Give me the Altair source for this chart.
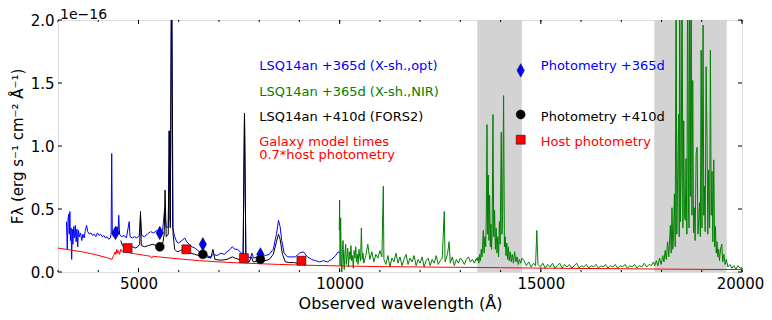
import altair as alt
import pandas as pd

# ---------------- data (flux in units of 1e-16 erg/s/cm2/A) ----------------
blue_wl = [3210, 3230, 3250, 3265, 3280, 3295, 3310, 3325, 3340, 3355, 3370, 3390, 3410, 3430, 3450,
           3470, 3490, 3510, 3530, 3560, 3590, 3620, 3650, 3680, 3710, 3740, 3780, 3820, 3860, 3900,
           3940, 3980, 4020, 4060, 4100, 4140, 4180, 4220, 4260, 4300, 4320, 4335, 4350, 4380, 4420,
           4470, 4490, 4510, 4530, 4580, 4640, 4700, 4770, 4790, 4850, 4900, 4960, 5020, 5050, 5080,
           5150, 5220, 5300, 5380, 5450, 5520, 5600, 5650, 5690, 5740, 5765, 5790, 5823, 5850, 5900,
           5950, 6000, 6080, 6150, 6200, 6260, 6330, 6400, 6480, 6550, 6620, 6700, 6780, 6860, 6950,
           7050, 7130, 7200, 7280, 7330, 7400, 7460, 7530, 7600, 7635, 7670, 7720, 7780, 7820, 7860,
           7950, 8050, 8150, 8250, 8350, 8430, 8480, 8520, 8560, 8620, 8700, 8800, 8900, 9000, 9100,
           9200, 9300, 9400, 9500, 9600, 9700, 9800, 9900, 9960, 10010]
blue_flux = [0.40, 0.18, 0.42, 0.46, 0.30, 0.48, 0.25, 0.35, 0.10, 0.34, 0.22, 0.36, 0.27, 0.37, 0.24,
             0.34, 0.20, 0.33, 0.28, 0.31, 0.25, 0.30, 0.27, 0.33, 0.37, 0.32, 0.30, 0.31, 0.29, 0.30,
             0.28, 0.31, 0.29, 0.30, 0.28, 0.29, 0.27, 0.28, 0.26, 0.27, 0.30, 0.94, 0.30, 0.28, 0.29,
             0.36, 0.30, 0.45, 0.30, 0.28, 0.29, 0.27, 0.40, 0.28, 0.27, 0.28, 0.27, 0.29, 0.45, 0.29,
             0.28, 0.30, 0.32, 0.31, 0.33, 0.30, 0.33, 0.50, 0.35, 0.36, 1.12, 0.40, 2.50, 0.35, 0.28,
             0.24, 0.23, 0.25, 0.27, 0.24, 0.22, 0.20, 0.19, 0.17, 0.15, 0.13, 0.13, 0.12, 0.14, 0.13,
             0.15, 0.14, 0.16, 0.18, 0.20, 0.18, 0.18, 0.16, 0.13, 1.26, 0.13, 0.12, 0.11, 0.15, 0.11,
             0.12, 0.12, 0.13, 0.14, 0.18, 0.30, 0.41, 0.36, 0.25, 0.15, 0.12, 0.12, 0.12, 0.15, 0.16,
             0.12, 0.10, 0.09, 0.08, 0.09, 0.08, 0.10, 0.13, 0.16, 0.15]

green_wl = [9990, 10000, 10010, 10025, 10040, 10055, 10070, 10085, 10100, 10115, 10130, 10150, 10165,
            10180, 10200, 10220, 10240, 10260, 10280, 10300, 10320, 10340, 10360, 10380, 10400, 10420,
            10440, 10460, 10480, 10500, 10520, 10540, 10560, 10580, 10600, 10650, 10700, 10750, 10800,
            10850, 10900, 10950, 11000, 11050, 11085, 11100, 11150, 11200, 11250, 11300, 11350, 11400,
            11450, 11500, 11550, 11600, 11650, 11700, 11750, 11800, 11850, 11900, 11950, 12000, 12050,
            12100, 12150, 12200, 12250, 12300, 12350, 12400, 12450, 12500, 12550, 12600, 12620, 12680,
            12720, 12750, 12800, 12850, 12900, 12950, 13000, 13050, 13100, 13150, 13200, 13250, 13300,
            13350, 13400,
            13420, 13440, 13460, 13480, 13500, 13520, 13540, 13570, 13590, 13610, 13630, 13645, 13662,
            13678, 13694, 13710, 13727, 13745, 13760, 13775, 13790, 13811, 13830, 13851, 13870, 13890,
            13910, 13930, 13950, 13970, 13990, 14017, 14035, 14050, 14075, 14095, 14115, 14135, 14155,
            14175, 14195, 14215, 14240, 14265, 14290, 14320, 14350, 14380, 14410, 14440, 14470, 14500,
            14530,
            14580, 14640, 14700, 14760, 14820, 14870, 14900, 14930, 14990, 15050, 15110, 15170, 15230,
            15290, 15350, 15410, 15470, 15530, 15590, 15650, 15710, 15770, 15830, 15890, 15950, 16010,
            16070, 16130, 16190, 16250, 16310, 16370, 16430, 16490, 16550, 16610, 16670, 16730, 16790,
            16850, 16910, 16970, 17030, 17090, 17150, 17210, 17270, 17330, 17390, 17450, 17510, 17570,
            17630, 17690, 17750, 17800,
            17830, 17870, 17910, 17950, 17990, 18030, 18060, 18090, 18120, 18150, 18180, 18220, 18240,
            18260, 18280, 18300, 18320, 18340, 18362, 18380, 18400, 18427, 18440, 18452, 18470, 18490,
            18511, 18530, 18551, 18570, 18590, 18610, 18630, 18651, 18670, 18685, 18701, 18718, 18736,
            18755, 18776, 18795, 18815, 18835, 18860, 18885, 18905, 18925, 18945, 18965, 18985, 19005,
            19033, 19050, 19065, 19085, 19108, 19132, 19150, 19170, 19195, 19215, 19235, 19255, 19275,
            19298, 19320, 19340, 19360, 19380, 19400, 19420, 19440, 19470, 19500, 19520, 19550, 19580,
            19610, 19650, 19700, 19750, 19800, 19850, 19900, 19950, 20000]
green_flux = [0.33, 0.57, 0.05, 0.43, 0.10, 0.00, 0.18, 0.25, 0.08, 0.02, 0.15, 0.22, 0.06,
              0.12, 0.19, 0.04, 0.16, 0.10, 0.21, 0.09, 0.13, 0.03, 0.17, 0.11, 0.20, 0.08,
              0.14, 0.06, 0.18, 0.12, 0.09, 0.35, 0.10, 0.15, 0.07, 0.13, 0.22, 0.10, 0.16,
              0.08, 0.14, 0.11, 0.17, 0.12, 0.68, 0.10, 0.06, 0.13, 0.04, 0.11, 0.08, 0.15,
              0.07, 0.12, 0.05, 0.10, 0.14, 0.06, 0.11, 0.08, 0.13, 0.05, 0.10, 0.07, 0.12,
              0.04, 0.09, 0.11, 0.05, 0.10, 0.07, 0.13, 0.06, 0.09, 0.11, 0.48, 0.08, 0.14,
              0.24, 0.07, 0.12, 0.05, 0.10, 0.07, 0.11, 0.09, 0.06, 0.10, 0.12, 0.08, 0.10,
              0.07, 0.11,
              0.09, 0.12, 0.07, 0.14, 0.09, 0.18, 0.12, 0.33, 0.15, 0.28, 0.20, 0.45, 1.17,
              0.30, 0.77, 0.25, 0.61, 0.20, 0.38, 0.18, 0.30, 1.25, 0.28, 0.49, 0.18, 0.35,
              0.15, 0.28, 0.12, 0.40, 0.22, 1.11, 0.30, 0.45, 1.40, 0.20, 0.28, 0.13, 0.23,
              0.10, 0.20, 0.09, 0.16, 0.08, 0.14, 0.07, 0.16, 0.08, 0.12, 0.06, 0.10, 0.07,
              0.11,
              0.09, 0.05, 0.08, 0.04, 0.07, 0.05, 0.33, 0.06, 0.04, 0.07, 0.03, 0.06, 0.04,
              0.07, 0.03, 0.05, 0.07, 0.03, 0.06, 0.04, 0.06, 0.03, 0.05, 0.07, 0.03, 0.05,
              0.04, 0.06, 0.03, 0.05, 0.04, 0.06, 0.03, 0.05, 0.04, 0.06, 0.03, 0.05, 0.04,
              0.06, 0.03, 0.05, 0.04, 0.06, 0.03, 0.05, 0.04, 0.06, 0.03, 0.05, 0.04, 0.07,
              0.04, 0.06, 0.05, 0.08,
              0.05, 0.09, 0.05, 0.11, 0.06, 0.13, 0.08, 0.17, 0.10, 0.24, 0.12, 0.37, 0.15,
              0.51, 0.18, 0.30, 0.62, 0.20, 2.60, 0.30, 0.75, 1.25, 0.28, 2.60, 0.40, 0.81,
              2.60, 0.35, 1.20, 0.45, 0.41, 0.90, 0.30, 2.60, 0.50, 0.35, 2.60, 0.60, 2.60,
              0.45, 1.52, 0.31, 0.51, 0.25, 0.94, 0.99, 0.30, 0.42, 0.55, 0.28, 1.76, 0.35,
              1.96, 0.45, 0.68, 0.32, 1.63, 1.02, 0.30, 0.81, 0.35, 1.76, 0.45, 0.80, 0.24,
              0.89, 0.20, 0.36, 0.15, 0.24, 0.12, 0.18, 0.09, 0.19, 0.22, 0.08, 0.14, 0.06,
              0.10, 0.04, 0.06, 0.03, 0.05, 0.02, 0.05, 0.03, 0.04]

black_wl = [4560, 4600, 4650, 4700, 4760, 4800, 4860, 4920, 4980, 5030, 5050, 5070, 5150, 5250, 5350,
            5450, 5530, 5600, 5640, 5660, 5690, 5740, 5765, 5790, 5823, 5860, 5900, 5960, 6050, 6150,
            6220, 6300, 6400, 6500, 6560, 6700, 6800, 6850, 6900, 7000, 7100, 7200, 7330, 7400, 7500,
            7600, 7635, 7670, 7750, 7810, 7850, 7950, 8050, 8150, 8250, 8350, 8430, 8480, 8520, 8580,
            8650, 8750, 8850, 8950, 9050, 9150]
black_flux = [0.25, 0.21, 0.20, 0.19, 0.21, 0.19, 0.20, 0.19, 0.20, 0.22, 0.48, 0.21, 0.20, 0.21, 0.22,
              0.21, 0.20, 0.22, 0.30, 0.65, 0.28, 0.30, 1.12, 0.35, 2.50, 0.30, 0.18, 0.16, 0.17, 0.20,
              0.17, 0.15, 0.14, 0.13, 0.12, 0.12, 0.11, 0.18, 0.10, 0.095, 0.095, 0.10, 0.12, 0.11, 0.10,
              0.10, 1.26, 0.09, 0.08, 0.12, 0.08, 0.085, 0.09, 0.09, 0.10, 0.14, 0.24, 0.30, 0.26, 0.14,
              0.08, 0.075, 0.075, 0.07, 0.075, 0.07]

model_wl = [3000, 3300, 3600, 3900, 4200, 4300, 4340, 4380, 4420, 4440, 4460, 4480, 4500, 4530, 4560,
            4600, 4640, 4700, 4750, 4800, 4900, 5000, 5100, 5200, 5300, 5330, 5360, 5500, 5800, 6000,
            6500, 7000, 7500, 8000, 8500, 9000, 10000, 11000, 12000, 13000, 14000, 15000, 16000,
            17000, 18000, 19000, 20000]
model_flux = [0.19, 0.175, 0.16, 0.14, 0.115, 0.105, 0.10, 0.13, 0.16, 0.14, 0.18, 0.15, 0.17, 0.14, 0.18,
              0.16, 0.17, 0.16, 0.155, 0.15, 0.145, 0.14, 0.135, 0.13, 0.125, 0.11, 0.125, 0.12, 0.11, 0.105,
              0.09, 0.08, 0.072, 0.066, 0.06, 0.055, 0.048, 0.043, 0.04, 0.037, 0.034, 0.031, 0.028,
              0.026, 0.023, 0.021, 0.019]

phot365_wl = [4430, 5530, 6600, 8030]
phot365_flux = [0.31, 0.31, 0.22, 0.14]
phot410_wl = [5530, 6600, 8030]
phot410_flux = [0.20, 0.14, 0.10]
host_wl = [4730, 6190, 7620, 9050]
host_flux = [0.19, 0.18, 0.11, 0.09]

band_start = [13420, 17820]
band_end = [14530, 19620]

key_wl = [14500, 14500, 14500]
key_flux = [1.60, 1.25, 1.05]

label_text = ["LSQ14an +365d (X-sh.,opt)", "LSQ14an +365d (X-sh.,NIR)", "LSQ14an +410d (FORS2)",
              "Galaxy model times", "0.7*host photometry",
              "Photometry +365d", "Photometry +410d", "Host photometry"]
label_wl = [8000, 8000, 8000, 8000, 8000, 15000, 15000, 15000]
label_flux = [1.60, 1.40, 1.20, 1.00, 0.90, 1.60, 1.20, 1.00]
label_color = ["#0000ff", "#008000", "#000000", "#ff0000", "#ff0000", "#0000ff", "#000000", "#ff0000"]

x_major = [5000, 10000, 15000, 20000]
x_minor = [v for v in range(3000, 20001, 1000)]
y_major = [0.0, 0.5, 1.0, 1.5, 2.0]

# ---------------- chart ----------------
W, H = 684, 252
FONT = "DejaVu Sans"
BLUE, GREEN, RED = "#0000ff", "#008000", "#ff0000"
DIAMOND = "M0,-1L0.55,0L0,1L-0.55,0Z"

xs = alt.Scale(domain=[3000, 20000], nice=False, zero=False)
ys = alt.Scale(domain=[0, 2.0], nice=False, zero=False)
xaxis = alt.Axis(values=x_major, format="d", ticks=False, domain=False, grid=False,
                 labelFlush=False, labelFont=FONT, labelFontSize=15, labelColor="black",
                 labelPadding=4,
                 labelOffset={"condition": {"test": "datum.value == 20000", "value": -2}, "value": 0},
                 title="Observed wavelength (Å)", titleFont=FONT,
                 titleFontSize=16, titleFontWeight="normal", titleColor="black", titlePadding=4)
yaxis = alt.Axis(values=y_major, format=".1f", ticks=False, domain=False, grid=False,
                 labelFlush=False, labelFont=FONT, labelFontSize=15, labelColor="black",
                 labelPadding=4, title="Fλ (erg s⁻¹ cm⁻² Å⁻¹)", titleFont=FONT,
                 titleFontSize=15, titleFontWeight="normal", titleColor="black", titlePadding=5)

X = lambda f: alt.X(f, scale=xs, axis=xaxis)
Y = lambda f: alt.Y(f, scale=ys, axis=yaxis)

bands = alt.Chart(pd.DataFrame({"s": band_start, "e": band_end})).mark_rect(
    color="#d3d3d3", opacity=1).encode(x=X("s:Q"), x2="e:Q")


def spec(wl, fl, color):
    return alt.Chart(pd.DataFrame({"wl": wl, "flux": fl})).mark_line(
        color=color, strokeWidth=1, clip=True).encode(x=X("wl:Q"), y=Y("flux:Q"))


blue = spec(blue_wl, blue_flux, BLUE)
green = spec(green_wl, green_flux, GREEN)
black = spec(black_wl, black_flux, "#000000")
model = spec(model_wl, model_flux, RED)

pts365 = alt.Chart(pd.DataFrame({"wl": phot365_wl + key_wl[:1], "flux": phot365_flux + key_flux[:1]})).mark_point(
    shape=DIAMOND, filled=True, fill=BLUE, stroke="black", strokeWidth=0.5, size=180, opacity=1
).encode(x=X("wl:Q"), y=Y("flux:Q"))
pts410 = alt.Chart(pd.DataFrame({"wl": phot410_wl + key_wl[1:2], "flux": phot410_flux + key_flux[1:2]})).mark_point(
    shape="circle", filled=True, fill="black", stroke="black", strokeWidth=0.5, size=80, opacity=1
).encode(x=X("wl:Q"), y=Y("flux:Q"))
ptshost = alt.Chart(pd.DataFrame({"wl": host_wl + key_wl[2:], "flux": host_flux + key_flux[2:]})).mark_point(
    shape="square", filled=True, fill=RED, stroke="black", strokeWidth=0.5, size=81, opacity=1
).encode(x=X("wl:Q"), y=Y("flux:Q"))

labels = alt.Chart(pd.DataFrame({"t": label_text, "wl": label_wl, "flux": label_flux, "c": label_color})).mark_text(
    align="left", baseline="alphabetic", font=FONT, fontSize=13
).encode(x=X("wl:Q"), y=Y("flux:Q"), text="t:N", color=alt.Color("c:N", scale=None))

offset_text = alt.Chart(pd.DataFrame({"t": ["1e−16"]})).mark_text(
    align="left", baseline="alphabetic", font=FONT, fontSize=14, color="black"
).encode(text="t:N", x=alt.value(2), y=alt.value(-1))

xmaj_df = pd.DataFrame({"v": x_major})
xmin_df = pd.DataFrame({"v": x_minor})
ymaj_df = pd.DataFrame({"v": y_major})
tick = dict(color="black", strokeWidth=1)
ticks = [
    alt.Chart(xmaj_df).mark_rule(**tick).encode(x=X("v:Q"), y=alt.value(H), y2=alt.value(H - 4)),
    alt.Chart(xmaj_df).mark_rule(**tick).encode(x=X("v:Q"), y=alt.value(0), y2=alt.value(4)),
    alt.Chart(xmin_df).mark_rule(**tick).encode(x=X("v:Q"), y=alt.value(H), y2=alt.value(H - 2)),
    alt.Chart(xmin_df).mark_rule(**tick).encode(x=X("v:Q"), y=alt.value(0), y2=alt.value(2)),
    alt.Chart(ymaj_df).mark_rule(**tick).encode(y=Y("v:Q"), x=alt.value(0), x2=alt.value(4)),
    alt.Chart(ymaj_df).mark_rule(**tick).encode(y=Y("v:Q"), x=alt.value(W), x2=alt.value(W - 4)),
]

chart = alt.layer(
    bands, blue, green, black, model, *ticks, pts365, pts410, ptshost, labels, offset_text
).properties(
    width=W, height=H,
    autosize=alt.AutoSizeParams(type="none"),
    padding={"left": 50, "top": 12, "right": 22, "bottom": 40},
    background="white",
).configure_view(stroke="black", strokeWidth=1).configure(font=FONT)

chart.save("out.html", embed_options={"renderer": "svg", "actions": False})
